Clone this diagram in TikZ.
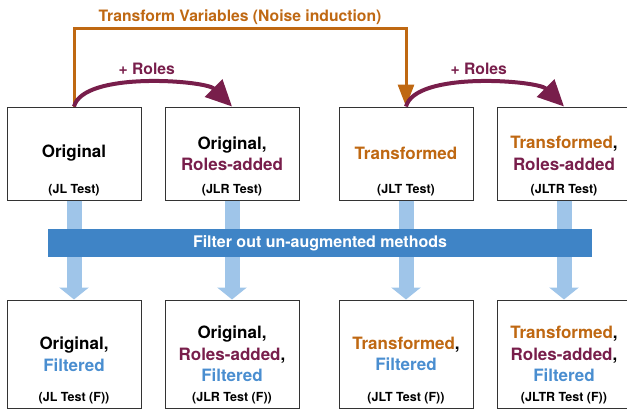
\documentclass[tikz,border=0pt]{standalone}
\usepackage{fontspec}
\setmainfont{TeX Gyre Heros}
\usetikzlibrary{arrows.meta}
\definecolor{noiseorange}{HTML}{BF6812}
\definecolor{rolepurple}{HTML}{781E4B}
\definecolor{filterblue}{HTML}{4A8ED0}
\definecolor{bandblue}{HTML}{3F84C6}
\definecolor{flowblue}{HTML}{9FC5E9}
\tikzset{
  setbox/.style={draw=black!80,line width=1pt,minimum width=134pt,align=center,inner sep=0pt,font=\fontsize{17}{21.5}\selectfont\bfseries},
  testlbl/.style={anchor=base,inner sep=0pt,font=\fontsize{12.5}{14}\selectfont\bfseries},
  rolearrow/.style={rolepurple,line width=4pt,-{Triangle[width=24pt,length=26pt]}},
  noisearrow/.style={noiseorange,line width=3pt,-{Triangle[width=16pt,length=22pt]}},
  flowarrow/.style={flowblue,line width=15pt,-{Triangle[width=29pt,length=12pt]}},
  steplbl/.style={font=\fontsize{15.7}{18}\selectfont\bfseries},
}
\begin{document}
\begin{tikzpicture}[x=1pt,y=-1pt]
\useasboundingbox (0,0) rectangle (627,410);
\pgfmathsetmacro{\ktop}{153.5}
\pgfmathsetmacro{\kbot}{354}
% top row
\node[setbox,minimum height=93pt] (jl) at (74,\ktop) {Original};
\node[setbox,minimum height=93pt] (jlr) at (232,\ktop) {Original,\\\textcolor{rolepurple}{Roles-added}};
\node[setbox,minimum height=93pt] (jlt) at (406,\ktop) {\textcolor{noiseorange}{Transformed}};
\node[setbox,minimum height=93pt] (jltr) at (564,\ktop) {\textcolor{noiseorange}{Transformed},\\\textcolor{rolepurple}{Roles-added}};
% bottom row
\node[setbox,minimum height=108pt] (jlf) at (74,\kbot) {Original,\\\textcolor{filterblue}{Filtered}};
\node[setbox,minimum height=108pt] (jlrf) at (232,\kbot) {Original,\\\textcolor{rolepurple}{Roles-added},\\\textcolor{filterblue}{Filtered}};
\node[setbox,minimum height=108pt] (jltf) at (406,\kbot) {\textcolor{noiseorange}{Transformed},\\\textcolor{filterblue}{Filtered}};
\node[setbox,minimum height=108pt] (jltrf) at (564,\kbot) {\textcolor{noiseorange}{Transformed},\\\textcolor{rolepurple}{Roles-added},\\\textcolor{filterblue}{Filtered}};
\foreach \kname/\klbl in {jl/{(JL Test)},jlr/{(JLR Test)},jlt/{(JLT Test)},jltr/{(JLTR Test)},jlf/{(JL Test (F))},jlrf/{(JLR Test (F))},jltf/{(JLT Test (F))},jltrf/{(JLTR Test (F))}}{\node[testlbl] (\kname-lbl) at ([yshift=7pt]\kname.south) {\klbl};}
% filtering
\foreach \kname in {jl,jlr,jlt,jltr}{\draw[flowarrow] (\kname.south) -- (\kname f.north);}
\node[fill=bandblue,minimum width=544pt,minimum height=28pt,inner sep=0pt,text=white,font=\fontsize{16}{18}\selectfont\bfseries] (filter) at (320,243) {Filter out un-augmented methods};
% noise induction
\draw[noisearrow] (jl.north) -- ++(0,-78) -| (jlt.north) node[pos=0.25,anchor=base,yshift=7pt,steplbl,text=noiseorange] (noise) {Transform Variables (Noise induction)};
% roles
\draw[rolearrow] (jl.north) to[out=75,in=135,looseness=0.6] node[midway,above=3pt,steplbl] (roles) {+ Roles} (jlr.north);
\draw[rolearrow] (jlt.north) to[out=75,in=135,looseness=0.6] node[midway,above=3pt,steplbl] (rolesT) {+ Roles} (jltr.north);
\end{tikzpicture}
\end{document}
